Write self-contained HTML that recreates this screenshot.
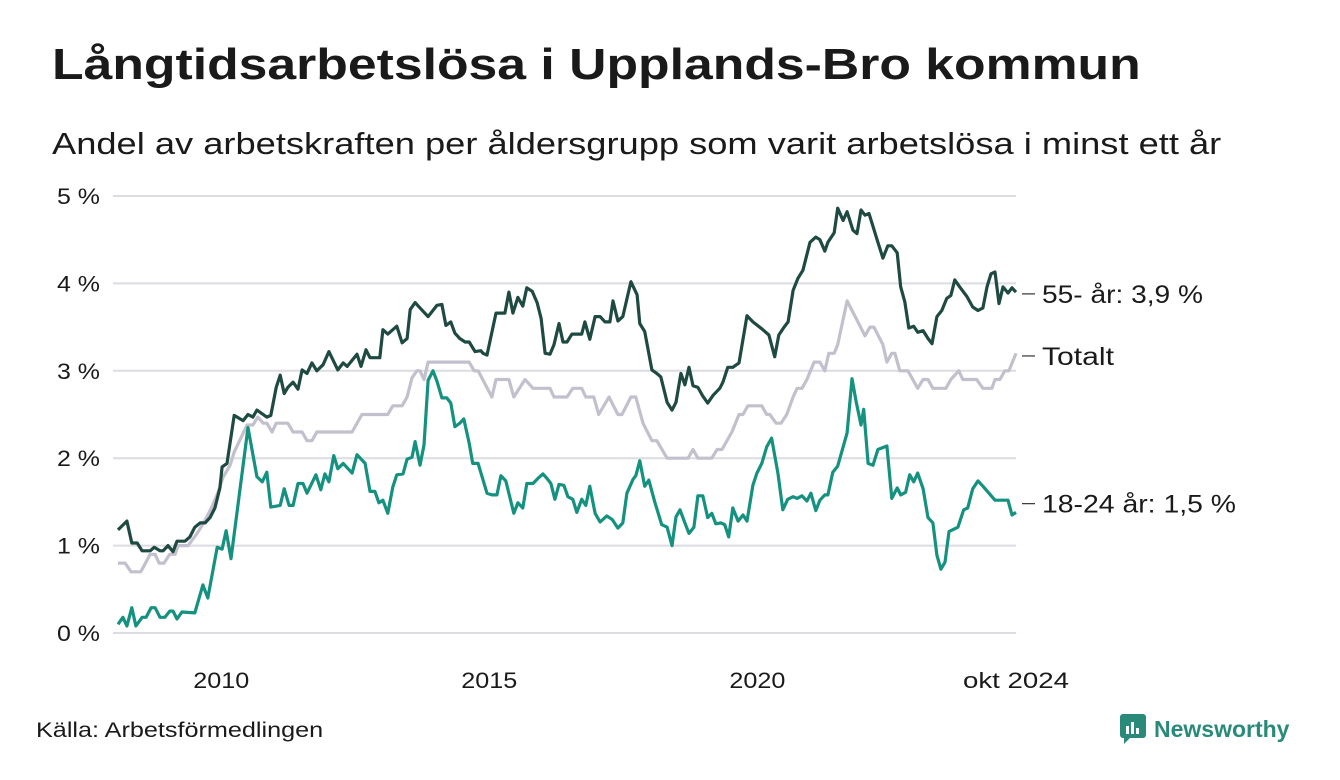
<!DOCTYPE html>
<html><head><meta charset="utf-8"><style>
body{margin:0;background:#fff;font-family:"Liberation Sans",sans-serif;}
#wrap{position:relative;width:1340px;height:780px;overflow:hidden;}
h1{position:absolute;left:52px;top:40px;margin:0;font-size:44px;font-weight:bold;color:#1a1a1a;white-space:nowrap;transform:scaleX(1.175);transform-origin:left top;}
h2{position:absolute;left:52px;top:126px;margin:0;font-size:31px;font-weight:normal;color:#1a1a1a;white-space:nowrap;transform:scaleX(1.17);transform-origin:left top;}
.src{position:absolute;left:36px;top:719px;font-size:21px;color:#1a1a1a;transform:scaleX(1.2);transform-origin:left top;white-space:nowrap;}
.logo{position:absolute;left:1120px;top:714px;display:flex;align-items:center;gap:8px;color:#2a8a7a;font-weight:bold;font-size:23px;}
svg text{font-family:"Liberation Sans",sans-serif;fill:#1a1a1a;}
</style></head><body>
<div id="wrap">
<h1>Långtidsarbetslösa i Upplands-Bro kommun</h1>
<h2>Andel av arbetskraften per åldersgrupp som varit arbetslösa i minst ett år</h2>
<svg id="chart" width="1340" height="780" style="position:absolute;left:0;top:0"></svg>
<div class="src">Källa: Arbetsförmedlingen</div>
<div class="logo">
<svg width="26" height="30" viewBox="0 0 26 30"><rect x="0" y="0" width="26" height="24" rx="3" fill="#2a8a7a"/><polygon points="4,24 10,24 4,30" fill="#2a8a7a"/><rect x="6" y="12" width="3" height="8" fill="#fff"/><rect x="11" y="8" width="3" height="12" fill="#fff"/><rect x="16" y="14" width="3" height="6" fill="#fff"/></svg>
<span>Newsworthy</span></div>
</div>
<script>
// months since Jan 2008, values in %
const months55=[0,2,3.1,4.3,5.4,7.2,8.1,9.4,10.1,11.2,12.3,13.2,15,16.1,17.2,18.4,19.5,20.6,21.7,22.8,23.3,24.4,26,28,29.1,30.2,31.1,33.3,34.2,35.4,36.3,37.2,38,39.2,40.3,41.2,42.3,43.4,44.5,45.9,47.2,49.2,50.4,51.3,53.5,54.4,55.5,56.4,58.6,59.3,60.4,62.4,63.6,64.7,65.4,66.5,67.6,69.4,71.4,72.5,73.4,74.5,75.4,76.5,77.7,78.6,79.9,81.2,81.7,82.6,84.6,86.6,87.5,88.4,89.5,90.6,91.5,92.7,93.8,94.7,95.6,96.7,97.6,98.7,99.6,100.5,101.6,103.8,104.5,105.6,106.8,107.9,109,110.1,110.8,111.9,113,114.8,116.2,116.8,117.9,119.5,120.6,121.5,122.9,124,124.9,126,126.9,127.8,128.7,129.8,130.9,132,133.2,134.7,135.4,136.5,137.6,139,140.8,142.1,144.1,145.7,147,147.9,149.1,150,151.1,152.2,153.3,154.9,156.2,157.1,158.2,158.9,160.3,161.1,162.3,163.2,164.5,165.4,166.3,167.2,168.1,169.9,171.2,172.3,173.2,174.4,175.2,176.1,177,178.1,179,180.2,181.3,182.2,183.3,184.4,185.5,186.4,187.3,188.4,190,191.3,192.5,193.6,194.5,195.4,196.3,197.2,198.1,199.2,200.1,201];
const vals55=[1.18,1.28,1.03,1.03,0.94,0.94,0.98,0.94,0.94,1.0,0.93,1.05,1.05,1.1,1.21,1.26,1.26,1.32,1.43,1.66,1.9,1.94,2.49,2.43,2.5,2.47,2.55,2.47,2.49,2.81,2.95,2.74,2.81,2.87,2.79,3.01,2.97,3.09,3.0,3.07,3.22,3.01,3.09,3.05,3.19,3.05,3.24,3.15,3.15,3.47,3.42,3.51,3.32,3.37,3.7,3.78,3.72,3.62,3.75,3.76,3.52,3.56,3.43,3.37,3.33,3.33,3.22,3.23,3.2,3.18,3.66,3.66,3.9,3.66,3.84,3.74,3.95,3.91,3.78,3.6,3.2,3.19,3.3,3.54,3.33,3.33,3.42,3.42,3.56,3.36,3.62,3.62,3.56,3.56,3.8,3.57,3.62,4.02,3.87,3.54,3.45,3.01,2.97,2.93,2.64,2.55,2.64,2.97,2.84,3.04,2.83,2.81,2.71,2.63,2.72,2.8,2.87,3.04,3.04,3.09,3.63,3.56,3.48,3.41,3.16,3.41,3.5,3.56,3.92,4.06,4.15,4.47,4.53,4.5,4.37,4.47,4.58,4.86,4.72,4.82,4.61,4.57,4.84,4.78,4.8,4.5,4.29,4.43,4.43,4.35,3.96,3.79,3.49,3.51,3.44,3.46,3.37,3.31,3.62,3.69,3.83,3.86,4.04,3.96,3.85,3.73,3.69,3.72,3.96,4.11,4.13,3.77,3.96,3.89,3.95,3.9];
const monthsTot=[0,1.6,2.9,5.1,7.2,8.3,9.2,10.3,11.6,12.8,13.4,15.7,17.7,19.5,21,22.4,23.5,25.1,26,27.3,28.9,30.2,31.3,32.5,33.3,34.5,35.4,38,39.2,41.2,42.3,43.4,44.5,52.4,54.6,60.4,61.5,63.6,64.7,65.8,66.9,67.6,68.5,69.4,78.6,79.7,80.6,83.7,84.6,87.5,88.6,91.1,92.9,96.7,97.6,100.5,101.8,103.8,104.7,106.5,107.6,109.9,111.9,112.8,114.8,115.9,117.5,119.5,120.6,122.9,127.6,128.7,129.8,132.9,134.1,135.2,137.4,139,139.9,141,144.1,145.2,145.9,147.3,148.4,149.7,151.1,152,153.1,154.2,155.8,157.1,158.2,159.1,160.3,161.1,163.2,165.4,167.2,168.3,169.2,171.2,172.1,173.2,173.9,175,176.8,179,180.2,181.3,182.4,185.3,186.4,188.2,189.1,192.2,193.6,195.6,196.3,197.4,198.5,199.4,201];
const valsTot=[0.8,0.8,0.7,0.7,0.9,0.9,0.8,0.8,0.9,0.9,1.0,1.0,1.14,1.29,1.44,1.61,1.78,1.92,2.07,2.21,2.38,2.38,2.47,2.4,2.4,2.3,2.4,2.4,2.3,2.3,2.2,2.2,2.3,2.3,2.5,2.5,2.6,2.6,2.7,2.92,3.0,3.0,2.9,3.1,3.1,3.0,3.0,2.7,2.9,2.9,2.7,2.9,2.8,2.8,2.7,2.7,2.8,2.8,2.7,2.7,2.5,2.7,2.5,2.5,2.7,2.7,2.4,2.2,2.2,2.0,2.0,2.1,2.0,2.0,2.1,2.1,2.3,2.5,2.5,2.6,2.6,2.5,2.5,2.4,2.4,2.5,2.7,2.8,2.8,2.9,3.1,3.1,3.0,3.2,3.2,3.3,3.8,3.58,3.4,3.5,3.5,3.3,3.1,3.2,3.2,3.0,3.0,2.8,2.9,2.9,2.8,2.8,2.9,3.0,2.9,2.9,2.8,2.8,2.9,2.9,3.0,3.0,3.2];
const months1824=[0,1.1,2,3.1,4,5.4,6.3,7.4,8.3,9.4,10.5,11.6,12.3,13.2,14.3,17.2,19,20.1,22.2,23.3,24.2,25.3,29.1,31.1,32.3,33.3,34.2,36.3,37.2,38.3,39.2,40.3,41.4,42.3,44.3,45.4,46.3,47.2,48.3,49.2,50.4,52.4,53.5,55.3,56.4,57.5,58.4,59.3,60.4,61.5,62.4,63.8,64.7,65.8,66.5,67.6,68.5,69.4,70.5,71.4,72.5,73.6,74.5,75.4,76.5,77.4,78.6,79.4,80.6,82.6,83.7,84.8,85.7,86.8,88.6,89.5,90.6,91.5,92.9,94,95.1,96,96.9,97.8,98.7,99.8,100.7,101.8,102.7,103.8,104.7,105.6,106.8,107.9,109.4,110.6,111.9,113,113.9,115.3,115.9,116.8,117.9,118.8,120.2,121.7,122.9,124,124.9,125.8,126.9,127.8,128.9,129.8,130.9,132,132.9,133.8,134.9,135.8,136.7,137.6,138.8,139.9,140.8,142.1,143,144.1,145.2,146.3,147.7,148.8,149.9,151.1,152,153.1,154.2,155.1,156.2,157.1,158.2,158.9,160,161.1,163.2,164.3,165.2,166.3,166.9,167.9,169,170.1,172.1,173.2,174.4,175.2,176.3,177.2,178.1,179,180.2,181.3,182.4,183.3,184.2,185.1,186,188,189.3,190.2,191.3,192.5,193.6,196.3,199.2,200.1,201];
const vals1824=[0.1,0.18,0.08,0.29,0.08,0.18,0.18,0.29,0.29,0.18,0.18,0.25,0.25,0.16,0.24,0.23,0.55,0.4,0.98,0.96,1.17,0.85,2.35,1.79,1.73,1.84,1.44,1.46,1.65,1.46,1.46,1.71,1.71,1.6,1.81,1.64,1.82,1.73,2.03,1.88,1.94,1.83,2.04,1.94,1.62,1.62,1.49,1.52,1.37,1.67,1.81,1.82,1.99,2.01,2.19,1.92,2.15,2.89,3.0,2.88,2.69,2.69,2.63,2.36,2.4,2.45,2.17,1.94,1.94,1.6,1.58,1.58,1.8,1.74,1.37,1.49,1.43,1.71,1.71,1.77,1.82,1.77,1.71,1.53,1.7,1.69,1.56,1.53,1.38,1.53,1.46,1.68,1.37,1.27,1.34,1.3,1.2,1.26,1.6,1.76,1.8,1.97,1.68,1.75,1.49,1.24,1.21,1.0,1.33,1.41,1.26,1.14,1.21,1.57,1.57,1.32,1.37,1.25,1.26,1.24,1.1,1.43,1.28,1.35,1.28,1.69,1.83,1.94,2.13,2.23,1.83,1.41,1.53,1.56,1.54,1.57,1.51,1.6,1.4,1.52,1.58,1.58,1.84,1.91,2.29,2.91,2.65,2.38,2.56,1.94,1.92,2.1,2.14,1.54,1.66,1.58,1.61,1.81,1.73,1.83,1.65,1.32,1.26,0.89,0.73,0.81,1.16,1.21,1.41,1.43,1.65,1.74,1.68,1.52,1.52,1.35,1.38,1.5];
const yTicks=[0,1,2,3,4,5];
const xTickMonths=[24,84,144,201];
const xTickLabels=["2010","2015","2020","okt 2024"];

const NS="http://www.w3.org/2000/svg";
const svg=document.getElementById('chart');
const X0=118,X1=1016,Y0=633,Y5=196;
const xs=m=>X0+m*(X1-X0)/201;
const ys=v=>Y0-v*(Y0-Y5)/5;
function mk(tag,attrs){const e=document.createElementNS(NS,tag);for(const k in attrs)e.setAttribute(k,attrs[k]);svg.appendChild(e);return e;}
yTicks.forEach(t=>{
  const l=mk('line',{x1:113,x2:1016,y1:ys(t),y2:ys(t),stroke:'#dcdce2','stroke-width':2});
  
  
  const tx=mk('text',{x:100,y:ys(t)+8,'text-anchor':'end','font-size':22,textLength:43,lengthAdjust:'spacingAndGlyphs'});
  tx.textContent=t+' %';
  
  
});
xTickMonths.forEach((m,i)=>{
  const tx=mk('text',{x:xs(m)-(i<3?4:0),y:688,'text-anchor':'middle','font-size':22,textLength:(i<3?56:106),lengthAdjust:'spacingAndGlyphs'});
  tx.textContent=xTickLabels[i];
  
  
});
function line(ms,vs,color,name){
  const d=ms.map((m,i)=>(i?'L':'M')+xs(m).toFixed(1)+','+ys(vs[i]).toFixed(1)).join('');
  const p=mk('path',{d:d,fill:'none',stroke:color,'stroke-width':3.2,'stroke-linejoin':'round'});
  
  
}
line(monthsTot,valsTot,'#c2c0cc','line-totalt');
line(months1824,vals1824,'#14917f','line-18-24');
line(months55,vals55,'#1f4a42','line-55-plus');
function lab(v,text,len,name){
  const y=ys(v);
  const l=mk('line',{x1:1022,x2:1035,y1:y,y2:y,stroke:'#333','stroke-width':1.2});
  
  
  const t=mk('text',{x:1042,y:y+9,'font-size':25,textLength:len,lengthAdjust:'spacingAndGlyphs'});
  t.textContent=text;
  
  
}
lab(3.88,'55- år: 3,9 %',161,'label-55-plus');
lab(3.17,'Totalt',72,'label-totalt');
lab(1.48,'18-24 år: 1,5 %',194,'label-18-24');
</script>
</body></html>
